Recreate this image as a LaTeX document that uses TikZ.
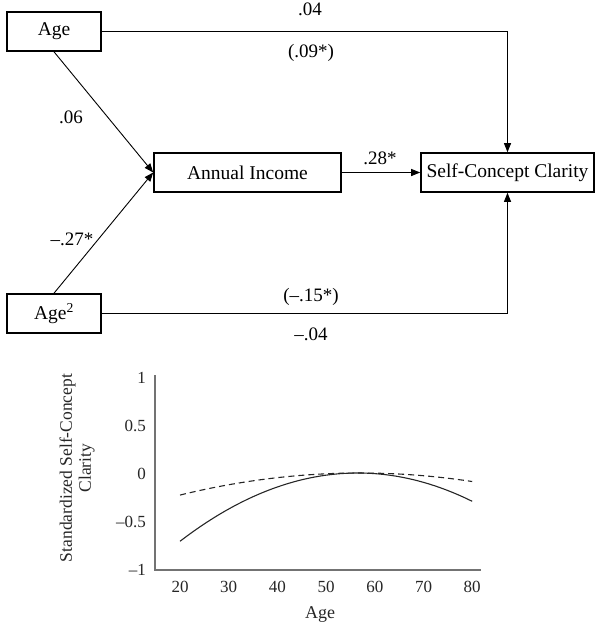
\documentclass[tikz,border=0pt]{standalone}
\usepackage{fontspec}
\setmainfont{Liberation Serif}
\usetikzlibrary{arrows.meta}
\begin{document}
\begin{tikzpicture}[x=1pt,y=-1pt,
  varbox/.style={draw,line width=1.6pt,rectangle,minimum height=39pt,inner sep=0pt,font=\fontsize{19.5}{22}\selectfont},
  path/.style={line width=0.9pt,-{Triangle[length=9pt,width=7pt]}},
  coef/.style={font=\fontsize{19}{22}\selectfont,inner sep=0pt},
  tick/.style={font=\fontsize{17}{20}\selectfont,inner sep=0pt,text=black!85},
  axis/.style={line width=1.2pt,draw=black!55},
  curve/.style={line width=1.1pt,draw=black!85}]
\useasboundingbox (0,0) rectangle (602,632);
% path model
\node[varbox,minimum width=94pt] (age) at (54,31.5) {Age};
\node[varbox,minimum width=187pt] (inc) at (247.5,172.5) {Annual Income};
\node[varbox,minimum width=173pt] (scc) at (507.5,172.5) {Self-Concept Clarity};
\node[varbox,minimum width=94pt] (agesq) at (54,313.5) {Age\textsuperscript{2}};
\draw[path] (age.east) -| (scc.north);
\draw[path] (agesq.east) -| (scc.south);
\draw[path] (age.south) -- (inc.west);
\draw[path] (agesq.north) -- (inc.west);
\draw[path] (inc.east) -- (scc.west);
\node[coef] (c1) at (310,9) {.04};
\node[coef] (c2) at (311,53) {(.09*)};
\node[coef] (c3) at (71,117) {.06};
\node[coef] (c4) at (380,158) {.28*};
\node[coef] (c5) at (72,239) {–.27*};
\node[coef] (c6) at (311,297) {(–.15*)};
\node[coef] (c7) at (311,334) {–.04};
% chart
\coordinate (ytop) at (155,375);
\coordinate (orig) at (155,570);
\coordinate (xend) at (481,570);
\draw[axis] (ytop) -- (orig) -- (xend);
\foreach \v/\t in {1/1,0.5/0.5,0/0,-0.5/–0.5,-1/–1}
  \node[tick,anchor=east] (yl) at (146,{474-96*\v}) {\t};
\foreach \a in {20,30,40,50,60,70,80}
  \node[tick] (xl\a) at ({180+(\a-20)*4.87},587) {\a};
\node[tick,font=\fontsize{18}{20}\selectfont] (xlab) at (320,614) {Age};
\node[tick,rotate=90,align=center,font=\fontsize{17.5}{19}\selectfont] (ylab) at (77,468) {Standardized Self-Concept\\Clarity};
\draw[curve,smooth] plot[domain=20:80,samples=41] ({180+(\x-20)*4.87},{473+96*0.0005405*(\x-56.5)*(\x-56.5)});
\draw[curve,dash pattern=on 6pt off 4pt,smooth] plot[domain=20:80,samples=41] ({180+(\x-20)*4.87},{473+96*0.0001607*(\x-57)*(\x-57)});
\end{tikzpicture}
\end{document}
